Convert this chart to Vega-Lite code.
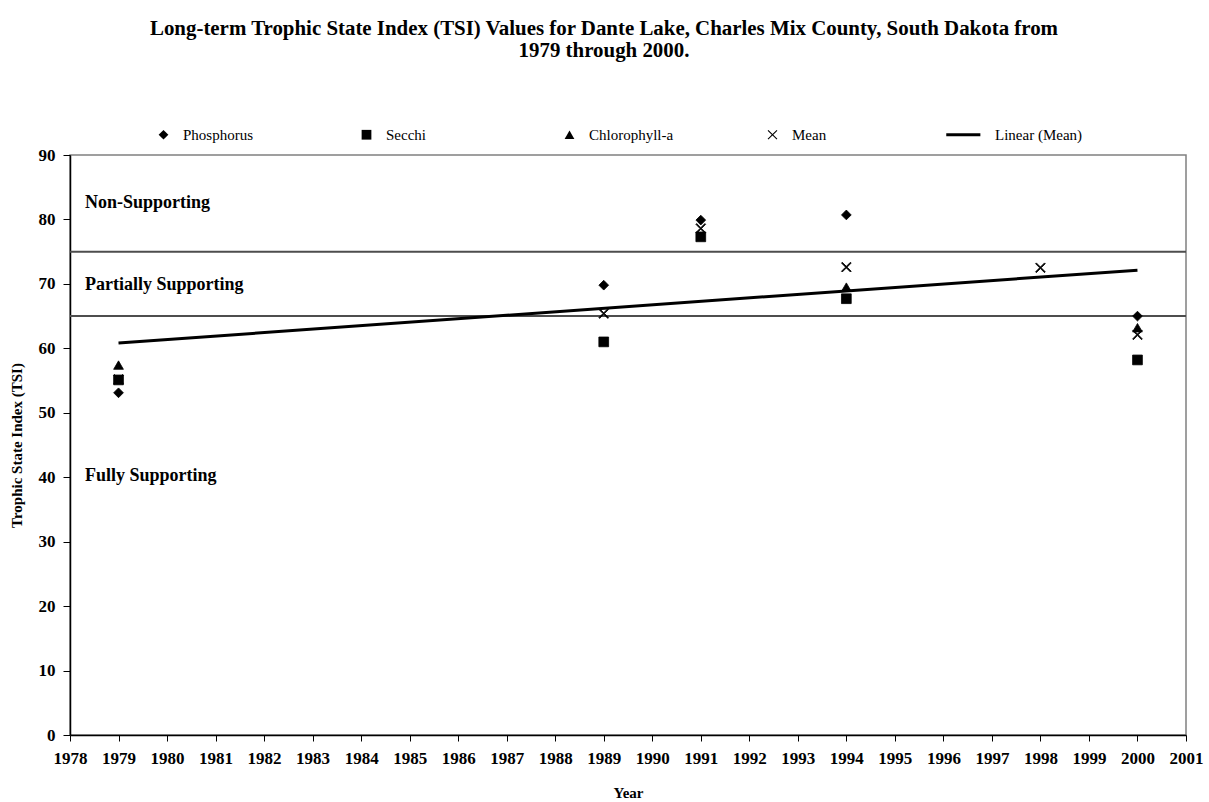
{
  "$schema": "https://vega.github.io/schema/vega-lite/v6.json",
  "width": 1116,
  "height": 580,
  "autosize": {"type": "none"},
  "padding": {"left": 70, "top": 155, "right": 23, "bottom": 67},
  "background": "white",
  "title": {
    "text": ["Long-term Trophic State Index (TSI) Values for Dante Lake, Charles Mix County, South Dakota from", "1979 through 2000."],
    "font": "Liberation Serif",
    "fontSize": 20.9,
    "fontWeight": "bold",
    "color": "black",
    "anchor": "middle",
    "frame": "group",
    "dx": -24,
    "offset": 66,
    "lineHeight": 22
  },
  "config": {
    "view": {"stroke": "#808080", "strokeWidth": 1.5},
    "font": "Liberation Serif"
  },
  "datasets": {
    "pts": [
      {"series": "Phosphorus", "year": 1979, "tsi": 53.1},
      {"series": "Phosphorus", "year": 1989, "tsi": 69.8},
      {"series": "Phosphorus", "year": 1991, "tsi": 79.9},
      {"series": "Phosphorus", "year": 1994, "tsi": 80.7},
      {"series": "Phosphorus", "year": 2000, "tsi": 65.0},
      {"series": "Secchi", "year": 1979, "tsi": 55.1},
      {"series": "Secchi", "year": 1989, "tsi": 61.0},
      {"series": "Secchi", "year": 1991, "tsi": 77.3},
      {"series": "Secchi", "year": 1994, "tsi": 67.7},
      {"series": "Secchi", "year": 2000, "tsi": 58.2},
      {"series": "Chlorophyll-a", "year": 1979, "tsi": 57.4},
      {"series": "Chlorophyll-a", "year": 1994, "tsi": 69.5},
      {"series": "Chlorophyll-a", "year": 2000, "tsi": 63.2},
      {"series": "Mean", "year": 1979, "tsi": 55.2},
      {"series": "Mean", "year": 1989, "tsi": 65.4},
      {"series": "Mean", "year": 1991, "tsi": 78.6},
      {"series": "Mean", "year": 1994, "tsi": 72.6},
      {"series": "Mean", "year": 1998, "tsi": 72.5},
      {"series": "Mean", "year": 2000, "tsi": 62.1}
    ],
    "bands": [{"tsi": 65}, {"tsi": 75}],
    "labels": [
      {"label": "Non-Supporting", "year": 1978.31, "tsi": 82.6},
      {"label": "Partially Supporting", "year": 1978.31, "tsi": 69.8},
      {"label": "Fully Supporting", "year": 1978.31, "tsi": 40.2}
    ]
  },
  "layer": [
    {
      "data": {"name": "bands"},
      "mark": {"type": "rule", "color": "#4d4d4d", "strokeWidth": 2},
      "encoding": {
        "y": {"field": "tsi", "type": "quantitative", "scale": {"domain": [0, 90], "nice": false}}
      }
    },
    {
      "data": {"name": "pts"},
      "transform": [
        {"filter": "datum.series === 'Mean'"},
        {"regression": "tsi", "on": "year", "extent": [1979, 2000]}
      ],
      "mark": {"type": "line", "color": "black", "strokeWidth": 3},
      "encoding": {
        "x": {"field": "year", "type": "quantitative"},
        "y": {"field": "tsi", "type": "quantitative"}
      }
    },
    {
      "data": {"name": "pts"},
      "mark": {"type": "point", "filled": true, "fill": "black", "stroke": "black", "strokeWidth": 0.8, "size": 95, "opacity": 1},
      "encoding": {
        "x": {
          "field": "year",
          "type": "quantitative",
          "scale": {"domain": [1978, 2001], "nice": false, "zero": false},
          "axis": {
            "values": [1978, 1979, 1980, 1981, 1982, 1983, 1984, 1985, 1986, 1987, 1988, 1989, 1990, 1991, 1992, 1993, 1994, 1995, 1996, 1997, 1998, 1999, 2000, 2001],
            "format": "d",
            "grid": false,
            "domainColor": "black",
            "domainWidth": 1.5,
            "tickColor": "black",
            "tickSize": 6,
            "labelFont": "Liberation Serif",
            "labelFontSize": 17,
            "labelFontWeight": "bold",
            "labelColor": "black",
            "labelPadding": 9,
            "labelFlush": false,
            "labelOverlap": false,
            "title": "Year",
            "titleFont": "Liberation Serif",
            "titleFontSize": 15,
            "titleFontWeight": "bold",
            "titleColor": "black",
            "titlePadding": 19
          }
        },
        "y": {
          "field": "tsi",
          "type": "quantitative",
          "scale": {"domain": [0, 90], "nice": false},
          "axis": {
            "values": [0, 10, 20, 30, 40, 50, 60, 70, 80, 90],
            "grid": false,
            "domainColor": "black",
            "domainWidth": 1.5,
            "tickColor": "black",
            "tickSize": 7,
            "labelFont": "Liberation Serif",
            "labelFontSize": 17,
            "labelFontWeight": "bold",
            "labelColor": "black",
            "labelPadding": 8,
            "labelFlush": false,
            "title": "Trophic State Index (TSI)",
            "titleFont": "Liberation Serif",
            "titleFontSize": 15,
            "titleFontWeight": "bold",
            "titleColor": "black",
            "titlePadding": 14
          }
        },
        "shape": {
          "field": "series",
          "type": "nominal",
          "scale": {
            "domain": ["Phosphorus", "Secchi", "Chlorophyll-a", "Mean", "Linear (Mean)"],
            "range": ["diamond", "square", "triangle-up", "M-0.84,-1L0,-0.16L0.84,-1L1,-0.84L0.16,0L1,0.84L0.84,1L0,0.16L-0.84,1L-1,0.84L-0.16,0L-1,-0.84Z", "M-6,-0.3L1,-0.3L1,0.3L-6,0.3Z"]
          },
          "legend": {
            "title": null,
            "orient": "none",
            "legendX": 86,
            "legendY": -28,
            "direction": "horizontal",
            "columns": 5,
            "gridAlign": "all",
            "columnPadding": 64,
            "labelFont": "Liberation Serif",
            "labelFontSize": 15,
            "labelColor": "black",
            "labelOffset": 12,
            "symbolSize": 95,
            "symbolFillColor": "black",
            "symbolStrokeColor": "black",
            "symbolStrokeWidth": 0.8,
            "symbolOpacity": 1
          }
        }
      }
    },
    {
      "data": {"name": "labels"},
      "mark": {"type": "text", "align": "left", "baseline": "middle", "font": "Liberation Serif", "fontSize": 18, "fontWeight": "bold", "color": "black"},
      "encoding": {
        "x": {"field": "year", "type": "quantitative"},
        "y": {"field": "tsi", "type": "quantitative"},
        "text": {"field": "label"}
      }
    }
  ]
}
